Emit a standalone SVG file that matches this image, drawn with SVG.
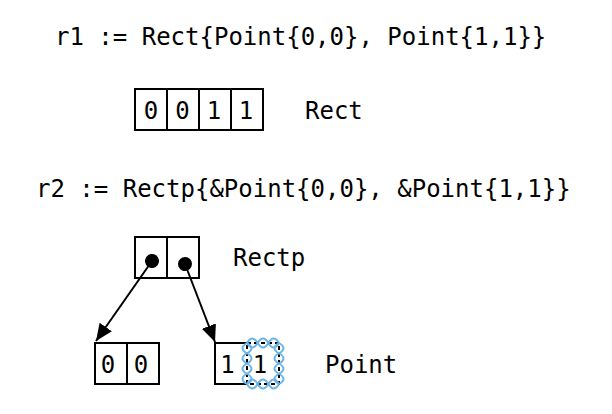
<svg xmlns="http://www.w3.org/2000/svg" width="612" height="414" viewBox="0 0 612 414">
  <style>
    text { font-family: "DejaVu Sans Mono", "Liberation Mono", monospace; font-size: 24px; fill: #000; }
    .cell { fill: #fff; stroke: #000; stroke-width: 2; }
    .div { stroke: #000; stroke-width: 2; }
    .mid { text-anchor: middle; }
    .conn { stroke: #000; stroke-width: 2; fill: none; }
    .dash { fill: none; stroke: #000; stroke-width: 2; stroke-dasharray: 4 3; }
    .stitch { fill: none; stroke: #6cb4e6; stroke-width: 2; }
  </style>
  <defs>
    <marker id="arrow" markerUnits="userSpaceOnUse" markerWidth="18" markerHeight="16" refX="17" refY="7.5" orient="auto">
      <path d="M0,0 L17,7.5 L0,15 z" fill="#000"/>
    </marker>
    <marker id="dot" markerUnits="userSpaceOnUse" markerWidth="16" markerHeight="16" refX="8" refY="8" orient="auto">
      <circle cx="8" cy="8" r="7" fill="#000"/>
    </marker>
  </defs>
  <rect width="612" height="414" fill="#fff"/>

  <g id="code-r1"><text x="55" y="45">r1 := Rect{Point{0,0}, Point{1,1}}</text></g>

  <g id="rect">
    <rect class="cell" x="135" y="89" width="128" height="41"/>
    <line class="div" x1="167" y1="89" x2="167" y2="130"/>
    <line class="div" x1="199" y1="89" x2="199" y2="130"/>
    <line class="div" x1="231" y1="89" x2="231" y2="130"/>
    <text class="mid" x="151" y="119">0</text>
    <text class="mid" x="182.5" y="119">0</text>
    <text class="mid" x="214" y="119">1</text>
    <text class="mid" x="246" y="119">1</text>
  </g>
  <g id="rect-label"><text x="305" y="119">Rect</text></g>

  <g id="code-r2"><text x="36" y="197">r2 := Rectp{&amp;Point{0,0}, &amp;Point{1,1}}</text></g>

  <g id="rectp">
    <rect class="cell" x="135" y="237" width="64" height="41"/>
    <line class="div" x1="167" y1="237" x2="167" y2="278"/>
  </g>
  <g id="rectp-label"><text x="233" y="266">Rectp</text></g>

  <g id="point-a">
    <rect class="cell" x="95" y="343" width="64" height="41"/>
    <line class="div" x1="127" y1="343" x2="127" y2="384"/>
    <text class="mid" x="108" y="373">0</text>
    <text class="mid" x="141" y="373">0</text>
  </g>

  <g id="point-b">
    <path class="div" fill="none" d="M247,343 H215 V384 H247"/>
    <rect class="dash" x="247" y="343" width="32" height="41"/>
    <g class="stitch">
      <path d="M247,343 q5.33,-9 10.67,0 q5.33,-9 10.67,0 q5.33,-9 10.67,0"/>
      <path d="M247,343 q5.33,9 10.67,0 q5.33,9 10.67,0 q5.33,9 10.67,0"/>
      <path d="M247,384 q5.33,-9 10.67,0 q5.33,-9 10.67,0 q5.33,-9 10.67,0"/>
      <path d="M247,384 q5.33,9 10.67,0 q5.33,9 10.67,0 q5.33,9 10.67,0"/>
      <path d="M247,343 q-9,5.125 0,10.25 q-9,5.125 0,10.25 q-9,5.125 0,10.25 q-9,5.125 0,10.25"/>
      <path d="M247,343 q9,5.125 0,10.25 q9,5.125 0,10.25 q9,5.125 0,10.25 q9,5.125 0,10.25"/>
      <path d="M279,343 q-9,5.125 0,10.25 q-9,5.125 0,10.25 q-9,5.125 0,10.25 q-9,5.125 0,10.25"/>
      <path d="M279,343 q9,5.125 0,10.25 q9,5.125 0,10.25 q9,5.125 0,10.25 q9,5.125 0,10.25"/>
    </g>
    <text class="mid" x="227.5" y="373">1</text>
    <text class="mid" x="260" y="373">1</text>
  </g>
  <g id="point-label"><text x="325" y="373">Point</text></g>

  <g id="connectors">
    <line class="conn" x1="152" y1="261" x2="96" y2="341" marker-start="url(#dot)" marker-end="url(#arrow)"/>
    <line class="conn" x1="185" y1="264" x2="215" y2="342" marker-start="url(#dot)" marker-end="url(#arrow)"/>
  </g>
</svg>
